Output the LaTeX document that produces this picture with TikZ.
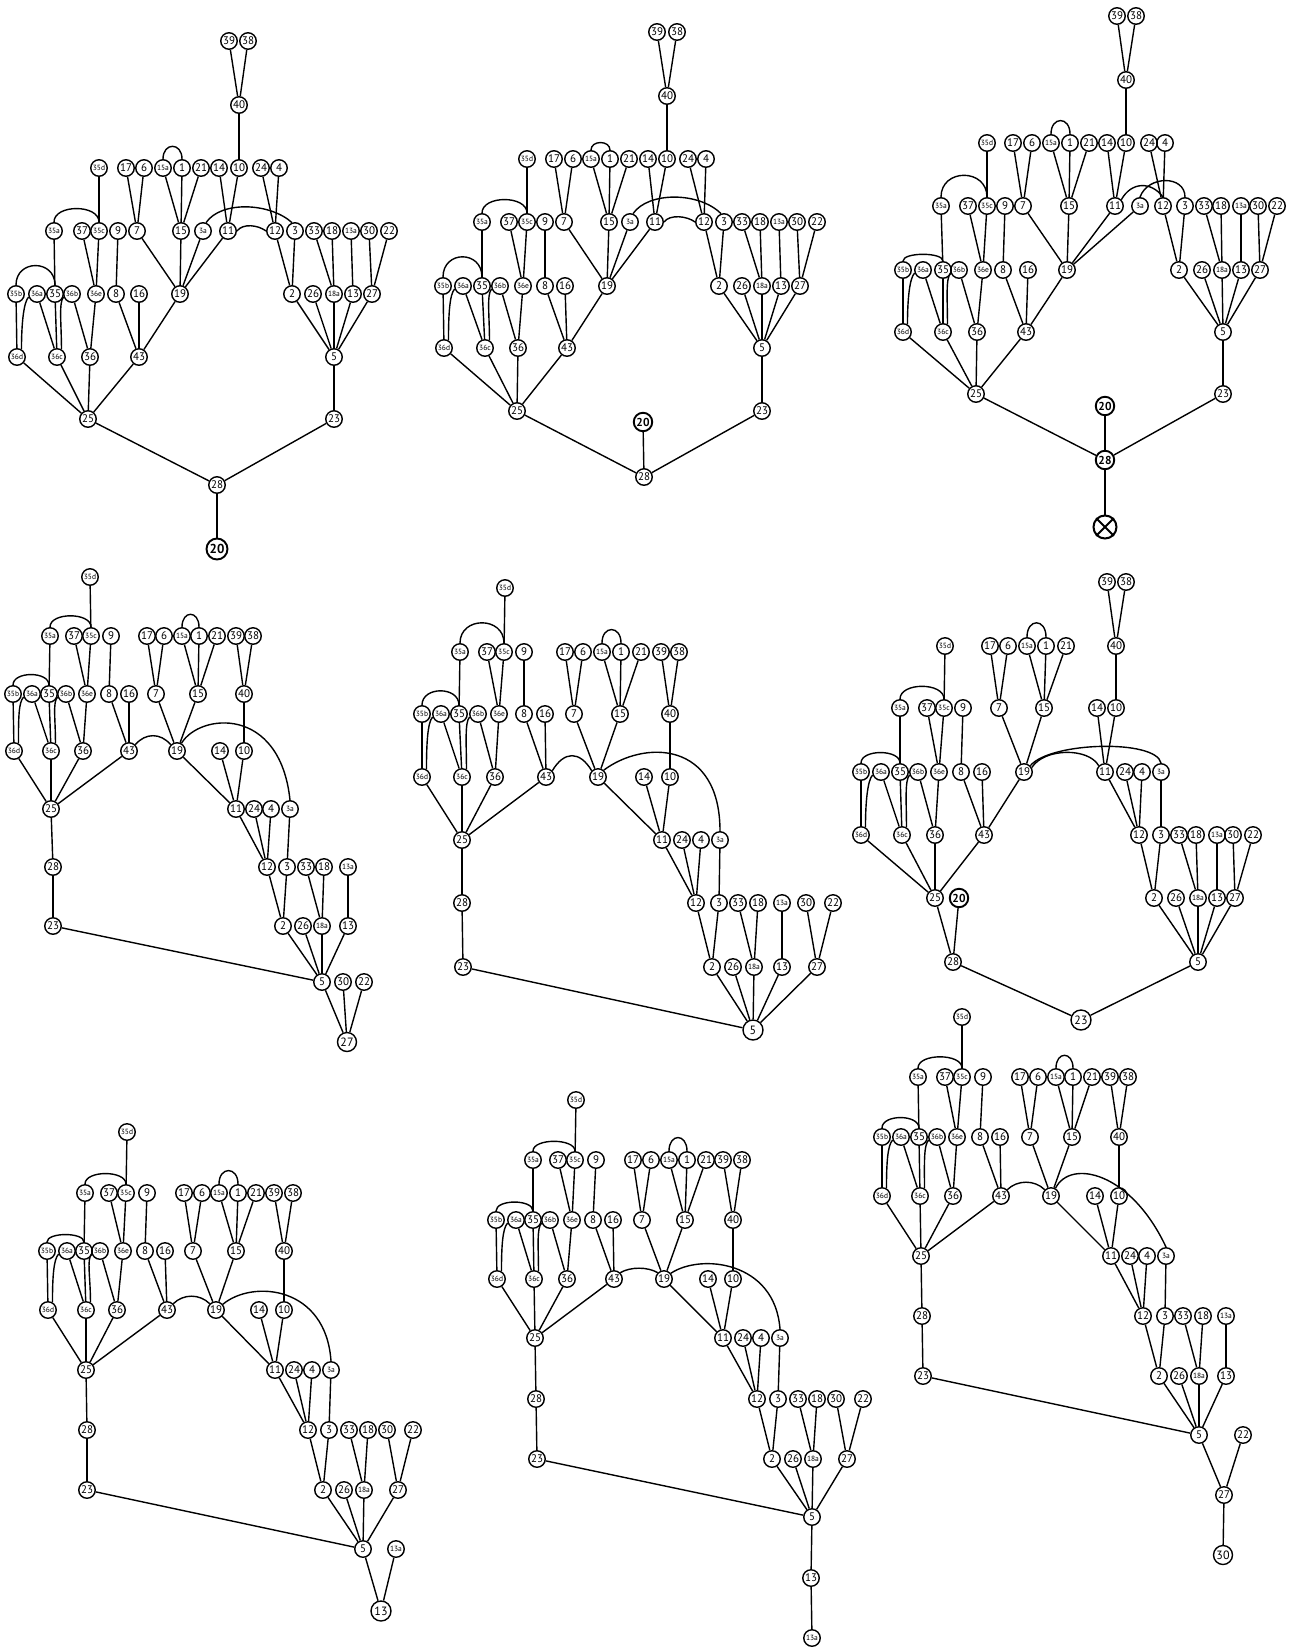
\documentclass[tikz,border=0pt]{standalone}
\usepackage{fontspec}
\setmainfont{PT Sans}
\usepackage{tikz}

% edges shared by all nine trees
\newcommand{\coreedges}{35d/35c, 37/36e, 35c/36e, 9/8, 35a/35, 35b/36d, 36a/36c, 35/36c,
  36b/36, 36e/36, 8/43, 16/43, 36d/25, 36c/25, 36/25, 43/25, 17/7, 6/7, 15a/15, 1/15,
  21/15, 7/19, 15/19, 39/40, 38/40, 40/10, 14/11, 10/11, 24/12, 4/12, 12/2, 3/2,
  33/18a, 18/18a, 2/5, 26/5, 18a/5}

\begin{document}
\begin{tikzpicture}[x=1pt,y=-1pt,
    vertex/.style={circle,draw,line width=1.4pt,minimum size=16.5pt,inner sep=0pt,font=\fontsize{11}{11}\selectfont},
    subvertex/.style={vertex,font=\fontsize{7.5}{7.5}\selectfont},
    bigvertex/.style={vertex,line width=1.9pt,minimum size=18.5pt,font=\fontsize{11.5}{11.5}\selectfont\bfseries},
    branch/.style={line width=1.4pt}]

\useasboundingbox (0,0) rectangle (1292,1650);

% Tree 1
\begin{scope}[name prefix=p1-]
\foreach \n/\x/\y in {39/229/41, 38/248/41, 40/239/105,
  17/126/168, 6/144/168, 1/182/168, 21/201/168, 14/219/168, 10/239/168, 24/261/168, 4/279/168,
  37/82/231, 9/118/231, 7/137/231, 15/181/231, 11/228/231, 12/275/231, 3/295/231, 33/314/231, 18/332/231, 30/369/231, 22/389/231,
  35/55/294, 8/116/294, 16/139/294, 19/180/294, 2/292/294, 26/313/294, 13/353/294, 27/372/294,
  36/90/357, 43/139/357, 5/334/357, 25/88/419, 23/334/419, 28/217/485}
  \node[vertex] (\n) at (\x,\y) {\n};
\foreach \n/\x/\y in {35d/99/168, 15a/163/168, 35a/54/231, 35c/99/231, 3a/203/231, 13a/351/231,
  35b/16/294, 36a/37/294, 36b/72/294, 36e/96/294, 18a/334/294, 36d/17/357, 36c/57/357}
  \node[subvertex] (\n) at (\x,\y) {\n};
\node[bigvertex,minimum size=21pt,font=\fontsize{13}{13}\selectfont\bfseries] (20) at (217,549) {20};
\foreach \a/\b in \coreedges \draw[branch] (\a) -- (\b);
\foreach \a/\b in {11/19, 3a/19, 19/43, 13a/13, 13/5, 30/27, 22/27, 27/5, 5/23, 23/28, 25/28, 28/20}
  \draw[branch] (\a) -- (\b);
\draw[branch] (15a.north) .. controls +(0,-17) and +(0,-17) .. (1.north);
\draw[branch] (35a.north) .. controls +(0,-18) and +(0,-18) .. (35c.north);
\draw[branch] (35b.north) .. controls +(0,-26) and +(0,-26) .. (35.north);
\draw[branch] (36a.200) .. controls +(-5,5) and +(0,-25) .. (36d.60);
\draw[branch] (36b.200) .. controls +(-5,5) and +(0,-25) .. (36c.60);
\draw[branch] (11.east) .. controls +(6,-8) and +(-8,-6) .. (12.west);
\draw[branch] (3a.70) .. controls +(15,-22) and +(-22,-20) .. (3.110);
\end{scope}

% Tree 2
\begin{scope}[name prefix=p2-]
\foreach \n/\x/\y in {39/657/32, 38/677/32, 40/667/96,
  17/554/159, 6/573/159, 1/610/159, 21/629/159, 14/648/159, 10/667/159, 24/688/159, 4/706/159,
  37/509/222, 9/545/222, 7/564/222, 15/609/222, 11/655/222, 12/704/222, 3/724/222, 33/742/222, 18/760/222, 30/797/222, 22/817/222,
  35/482/286, 8/545/286, 16/565/286, 19/607/286, 2/719/286, 26/742/286, 13/781/286, 27/800/286,
  36/518/348, 43/567/348, 5/762/348, 25/517/411, 23/762/411, 28/644/477}
  \node[vertex] (\n) at (\x,\y) {\n};
\foreach \n/\x/\y in {35d/527/159, 15a/591/159, 35a/482/222, 35c/527/222, 3a/630/222, 13a/779/222,
  35b/443/286, 36a/463/286, 36b/500/286, 36e/523/286, 18a/762/286, 36d/444/348, 36c/485/348}
  \node[subvertex] (\n) at (\x,\y) {\n};
\node[bigvertex] (20) at (643,422) {20};
\foreach \a/\b in \coreedges \draw[branch] (\a) -- (\b);
\foreach \a/\b in {11/19, 3a/19, 19/43, 13a/13, 13/5, 30/27, 22/27, 27/5, 5/23, 23/28, 25/28, 20/28}
  \draw[branch] (\a) -- (\b);
\draw[branch] (15a.north) .. controls +(0,-10) and +(0,-10) .. (1.north);
\draw[branch] (35a.north) .. controls +(0,-18) and +(0,-18) .. (35c.north);
\draw[branch] (35b.north) .. controls +(0,-27) and +(0,-27) .. (35.north);
\draw[branch] (36a.200) .. controls +(-5,5) and +(0,-25) .. (36d.60);
\draw[branch] (36b.200) .. controls +(-5,5) and +(0,-25) .. (36c.60);
\draw[branch] (11.east) .. controls +(6,-8) and +(-8,-6) .. (12.west);
\draw[branch] (3a.70) .. controls +(15,-22) and +(-22,-22) .. (3.110);
\end{scope}

% Tree 3
\begin{scope}[name prefix=p3-]
\foreach \n/\x/\y in {39/1117/16, 38/1136/16, 40/1126/80,
  17/1013/143, 6/1032/143, 1/1070/143, 21/1089/143, 14/1107/143, 10/1126/143, 24/1149/143, 4/1165/143,
  37/968/206, 9/1005/206, 7/1023/206, 15/1069/206, 11/1115/206, 12/1163/206, 3/1185/206, 33/1204/206, 18/1221/206, 30/1258/206, 22/1277/206,
  35/943/270, 8/1003/270, 16/1028/270, 19/1067/270, 2/1179/270, 26/1202/270, 13/1241/270, 27/1260/270,
  36/977/332, 43/1026/332, 5/1223/332, 25/976/394, 23/1223/394}
  \node[vertex] (\n) at (\x,\y) {\n};
\foreach \n/\x/\y in {35d/987/143, 15a/1051/143, 35a/941/206, 35c/987/206, 3a/1140/206, 13a/1241/206,
  35b/903/270, 36a/923/270, 36b/959/270, 36e/983/270, 18a/1222/270, 36d/903/332, 36c/943/332}
  \node[subvertex] (\n) at (\x,\y) {\n};
\node[bigvertex] (20) at (1105,406) {20};
\node[bigvertex] (28) at (1105,460) {28};
\node[circle,draw,line width=2pt,minimum size=23pt] (stop) at (1105,527) {};
\draw[line width=2pt] (stop.north west) -- (stop.south east) (stop.north east) -- (stop.south west);
\foreach \a/\b in \coreedges \draw[branch] (\a) -- (\b);
\foreach \a/\b in {11/19, 3a/19, 19/43, 13a/13, 13/5, 30/27, 22/27, 27/5, 5/23, 23/28, 25/28, 20/28, 28/stop}
  \draw[branch] (\a) -- (\b);
\draw[branch] (15a.north) .. controls +(0,-18) and +(0,-18) .. (1.north);
\draw[branch] (35a.north) .. controls +(0,-29) and +(0,-29) .. (35c.north);
\draw[branch] (35b.north) .. controls +(0,-9) and +(0,-9) .. (35.north);
\draw[branch] (36a.200) .. controls +(-5,5) and +(0,-25) .. (36d.60);
\draw[branch] (36b.200) .. controls +(-5,5) and +(0,-25) .. (36c.60);
\draw[branch] (11.45) .. controls +(10,-18) and +(-12,-16) .. (12.north);
\draw[branch] (3a.north) .. controls +(8,-22) and +(0,-22) .. (3.north);
\end{scope}

% Tree 4
\begin{scope}[name prefix=p4-]
\foreach \n/\x/\y in {37/74/636, 9/111/636, 17/147/636, 6/164/636, 1/199/636, 21/217/636, 39/236/636, 38/253/636,
  35/49/694, 8/109/694, 16/129/694, 7/156/694, 15/198/694, 40/244/694,
  36/83/751, 43/129/751, 19/177/751, 14/220/751, 10/244/751,
  25/51/809, 11/236/809, 24/254/809, 4/271/809,
  28/53/867, 12/267/867, 3/287/867, 33/306/867, 18/324/867,
  23/53/926, 2/283/926, 26/303/926, 13/348/926,
  5/322/982, 30/343/982, 22/364/982}
  \node[vertex] (\n) at (\x,\y) {\n};
\foreach \n/\x/\y in {35d/90/577, 35a/50/636, 35c/91/636, 15a/182/636,
  35b/13/694, 36a/32/694, 36b/66/694, 36e/87/694, 36d/14/751, 36c/51/751,
  3a/290/809, 13a/348/867, 18a/322/926}
  \node[subvertex] (\n) at (\x,\y) {\n};
\node[vertex,minimum size=19pt,font=\fontsize{12}{12}\selectfont] (27) at (347,1042) {27};
\foreach \a/\b in \coreedges \draw[branch] (\a) -- (\b);
\foreach \a/\b in {19/11, 11/12, 3a/3, 13a/13, 13/5, 25/28, 28/23, 23/5, 5/27, 30/27, 22/27}
  \draw[branch] (\a) -- (\b);
\draw[branch] (15a.north) .. controls +(0,-17) and +(0,-17) .. (1.north);
\draw[branch] (35a.north) .. controls +(0,-15) and +(0,-15) .. (35c.north);
\draw[branch] (35b.north) .. controls +(0,-14) and +(0,-14) .. (35.north);
\draw[branch] (36a.200) .. controls +(-5,5) and +(0,-25) .. (36d.60);
\draw[branch] (36b.200) .. controls +(-5,5) and +(0,-25) .. (36c.60);
\draw[branch] (43.45) .. controls +(10,-12) and +(-10,-12) .. (19.135);
\draw[branch] (19.60) .. controls +(18,-30) and +(-10,-95) .. (3a.north);
\end{scope}

% Tree 5
\begin{scope}[name prefix=p5-]
\foreach \n/\x/\y in {37/487/652, 9/524/652, 17/565/652, 6/583/652, 1/621/652, 21/641/652, 39/661/652, 38/679/652,
  35/459/714, 8/524/714, 16/545/714, 7/574/714, 15/620/714, 40/670/714,
  36/495/777, 43/546/777, 19/598/777, 14/644/777, 10/670/777,
  25/462/840, 11/662/840, 24/682/840, 4/701/840,
  28/462/903, 12/696/903, 3/719/903, 33/738/903, 18/758/903, 30/806/903, 22/833/903,
  23/463/967, 2/712/967, 26/733/967, 13/782/967, 27/817/967}
  \node[vertex] (\n) at (\x,\y) {\n};
\foreach \n/\x/\y in {35d/505/588, 35a/460/652, 35c/504/652, 15a/602/652,
  35b/422/714, 36a/441/714, 36b/478/714, 36e/499/714, 36d/422/777, 36c/462/777,
  3a/720/840, 13a/782/903, 18a/754/967}
  \node[subvertex] (\n) at (\x,\y) {\n};
\node[vertex,minimum size=20pt,font=\fontsize{12}{12}\selectfont] (5) at (753,1030) {5};
\foreach \a/\b in \coreedges \draw[branch] (\a) -- (\b);
\foreach \a/\b in {19/11, 11/12, 3a/3, 13a/13, 13/5, 30/27, 22/27, 27/5, 25/28, 28/23, 23/5}
  \draw[branch] (\a) -- (\b);
\draw[branch] (15a.north) .. controls +(0,-18) and +(0,-18) .. (1.north);
\draw[branch] (35a.north) .. controls +(0,-27) and +(0,-27) .. (35c.north);
\draw[branch] (35b.north) .. controls +(0,-19) and +(0,-19) .. (35.north);
\draw[branch] (36a.200) .. controls +(-5,5) and +(0,-25) .. (36d.60);
\draw[branch] (36b.200) .. controls +(-5,5) and +(0,-25) .. (36c.60);
\draw[branch] (43.45) .. controls +(12,-20) and +(-12,-20) .. (19.135);
\draw[branch] (19.50) .. controls +(40,-30) and +(0,-91) .. (3a.north);
\end{scope}

% Tree 6
\begin{scope}[name prefix=p6-]
\foreach \n/\x/\y in {39/1107/582, 38/1126/582,
  17/990/646, 6/1008/646, 1/1046/646, 21/1066/646, 40/1116/646,
  37/927/708, 9/963/708, 7/999/708, 15/1044/708, 14/1097/708, 10/1116/708,
  35/900/772, 8/961/772, 16/982/772, 19/1024/772, 11/1105/772, 24/1125/772, 4/1142/772,
  36/935/835, 43/984/835, 12/1139/835, 3/1161/835, 33/1179/835, 18/1196/835, 30/1233/835, 22/1253/835,
  25/935/898, 2/1154/898, 26/1176/898, 13/1217/898, 27/1235/898,
  28/953/962, 5/1198/962}
  \node[vertex] (\n) at (\x,\y) {\n};
\foreach \n/\x/\y in {35d/945/646, 15a/1027/646, 35a/900/708, 35c/944/708,
  35b/861/772, 36a/881/772, 36b/918/772, 36e/939/772, 3a/1161/772,
  36d/861/835, 36c/902/835, 13a/1217/835, 18a/1198/898}
  \node[subvertex] (\n) at (\x,\y) {\n};
\node[bigvertex] (20) at (959,898) {20};
\node[vertex,minimum size=20pt,font=\fontsize{12}{12}\selectfont] (23) at (1081,1020) {23};
\foreach \a/\b in \coreedges \draw[branch] (\a) -- (\b);
\foreach \a/\b in {19/43, 11/12, 3a/3, 13a/13, 13/5, 30/27, 22/27, 27/5, 5/23, 28/23, 25/28, 20/28}
  \draw[branch] (\a) -- (\b);
\draw[branch] (15a.north) .. controls +(0,-19) and +(0,-19) .. (1.north);
\draw[branch] (35a.north) .. controls +(0,-17) and +(0,-17) .. (35c.north);
\draw[branch] (35b.north) .. controls +(0,-14) and +(0,-14) .. (35.north);
\draw[branch] (36a.200) .. controls +(-5,5) and +(0,-25) .. (36d.60);
\draw[branch] (36b.200) .. controls +(-5,5) and +(0,-25) .. (36c.60);
\draw[branch] (19.30) .. controls +(13,-20) and +(-10,-18) .. (11.135);
\draw[branch] (19.45) .. controls +(20,-24) and +(-5,-24) .. (3a.north);
\end{scope}

% Tree 7
\begin{scope}[name prefix=p7-]
\foreach \n/\x/\y in {37/109/1193, 9/147/1193, 17/184/1193, 6/202/1193, 1/238/1193, 21/256/1193, 39/274/1193, 38/293/1193,
  35/84/1251, 8/145/1251, 16/165/1251, 7/193/1251, 15/236/1251, 40/284/1251,
  36/117/1310, 43/167/1310, 19/216/1310, 14/259/1310, 10/284/1310,
  25/86/1370, 11/275/1370, 24/294/1370, 4/312/1370,
  28/87/1430, 12/308/1430, 3/329/1430, 33/349/1430, 18/368/1430, 30/387/1430, 22/413/1430,
  23/87/1490, 2/323/1490, 26/344/1490, 27/398/1490, 5/363/1549}
  \node[vertex] (\n) at (\x,\y) {\n};
\foreach \n/\x/\y in {35d/127/1132, 35a/85/1193, 35c/126/1193, 15a/219/1193,
  35b/47/1251, 36a/67/1251, 36b/100/1251, 36e/123/1251, 36d/48/1310, 36c/86/1310,
  3a/331/1370, 18a/364/1490, 13a/396/1549}
  \node[subvertex] (\n) at (\x,\y) {\n};
\node[vertex,minimum size=20pt,font=\fontsize{12}{12}\selectfont] (13) at (381,1611) {13};
\foreach \a/\b in \coreedges \draw[branch] (\a) -- (\b);
\foreach \a/\b in {19/11, 11/12, 3a/3, 30/27, 22/27, 27/5, 25/28, 28/23, 23/5, 5/13, 13a/13}
  \draw[branch] (\a) -- (\b);
\draw[branch] (15a.north) .. controls +(0,-18) and +(0,-18) .. (1.north);
\draw[branch] (35a.north) .. controls +(0,-14) and +(0,-14) .. (35c.north);
\draw[branch] (35b.north) .. controls +(0,-10) and +(0,-10) .. (35.north);
\draw[branch] (36a.200) .. controls +(-5,5) and +(0,-25) .. (36d.60);
\draw[branch] (36b.200) .. controls +(-5,5) and +(0,-25) .. (36c.60);
\draw[branch] (43.45) .. controls +(10,-10) and +(-10,-10) .. (19.135);
\draw[branch] (19.40) .. controls +(30,-25) and +(-5,-75) .. (3a.north);
\end{scope}

% Tree 8
\begin{scope}[name prefix=p8-]
\foreach \n/\x/\y in {37/558/1160, 9/596/1160, 17/633/1160, 6/651/1160, 1/687/1160, 21/706/1160, 39/723/1160, 38/742/1160,
  35/533/1220, 8/593/1220, 16/613/1220, 7/642/1220, 15/685/1220, 40/733/1220,
  36/567/1279, 43/614/1279, 19/664/1279, 14/708/1279, 10/733/1279,
  25/535/1338, 11/723/1338, 24/743/1338, 4/761/1338,
  28/536/1399, 12/757/1399, 3/778/1399, 33/798/1399, 18/817/1399, 30/836/1399, 22/863/1399,
  23/537/1459, 2/772/1459, 26/793/1459, 27/847/1459, 5/812/1517, 13/811/1578}
  \node[vertex] (\n) at (\x,\y) {\n};
\foreach \n/\x/\y in {35d/576/1100, 35a/533/1160, 35c/575/1160, 15a/669/1160,
  35b/496/1220, 36a/516/1220, 36b/550/1220, 36e/572/1220, 36d/497/1279, 36c/534/1279,
  3a/780/1338, 18a/813/1459, 13a/812/1638}
  \node[subvertex] (\n) at (\x,\y) {\n};
\foreach \a/\b in \coreedges \draw[branch] (\a) -- (\b);
\foreach \a/\b in {19/11, 11/12, 3a/3, 30/27, 22/27, 27/5, 25/28, 28/23, 23/5, 5/13, 13/13a}
  \draw[branch] (\a) -- (\b);
\draw[branch] (15a.north) .. controls +(0,-18) and +(0,-18) .. (1.north);
\draw[branch] (35a.north) .. controls +(0,-13) and +(0,-13) .. (35c.north);
\draw[branch] (35b.north) .. controls +(0,-12) and +(0,-12) .. (35.north);
\draw[branch] (36a.200) .. controls +(-5,5) and +(0,-25) .. (36d.60);
\draw[branch] (36b.200) .. controls +(-5,5) and +(0,-25) .. (36c.60);
\draw[branch] (43.45) .. controls +(10,-6) and +(-10,-6) .. (19.135);
\draw[branch] (19.40) .. controls +(30,-20) and +(-5,-68) .. (3a.north);
\end{scope}

% Tree 9
\begin{scope}[name prefix=p9-]
\foreach \n/\x/\y in {37/945/1077, 9/983/1077, 17/1020/1077, 6/1038/1077, 1/1073/1077, 21/1092/1077, 39/1110/1077, 38/1128/1077,
  35/919/1137, 8/980/1137, 16/1000/1137, 7/1030/1137, 15/1072/1137, 40/1119/1137,
  36/953/1196, 43/1001/1196, 19/1051/1196, 14/1095/1196, 10/1119/1196,
  25/921/1256, 11/1111/1256, 24/1130/1256, 4/1147/1256,
  28/922/1316, 12/1143/1316, 3/1165/1316, 33/1183/1316, 18/1203/1316,
  23/923/1376, 2/1159/1376, 26/1179/1376, 13/1226/1376,
  5/1199/1435, 22/1243/1435, 27/1224/1495}
  \node[vertex] (\n) at (\x,\y) {\n};
\foreach \n/\x/\y in {35d/962/1017, 35a/918/1077, 35c/962/1077, 15a/1056/1077,
  35b/882/1137, 36a/901/1137, 36b/937/1137, 36e/957/1137, 36d/882/1196, 36c/920/1196,
  3a/1166/1256, 13a/1226/1316, 18a/1199/1376}
  \node[subvertex] (\n) at (\x,\y) {\n};
\node[vertex,minimum size=19pt,font=\fontsize{12}{12}\selectfont] (30) at (1223,1555) {30};
\foreach \a/\b in \coreedges \draw[branch] (\a) -- (\b);
\foreach \a/\b in {19/11, 11/12, 3a/3, 13a/13, 13/5, 25/28, 28/23, 23/5, 5/27, 22/27, 27/30}
  \draw[branch] (\a) -- (\b);
\draw[branch] (15a.north) .. controls +(0,-17) and +(0,-17) .. (1.north);
\draw[branch] (35a.north) .. controls +(0,-15) and +(0,-15) .. (35c.north);
\draw[branch] (35b.north) .. controls +(0,-14) and +(0,-14) .. (35.north);
\draw[branch] (36a.200) .. controls +(-5,5) and +(0,-25) .. (36d.60);
\draw[branch] (36b.200) .. controls +(-5,5) and +(0,-25) .. (36c.60);
\draw[branch] (43.45) .. controls +(10,-10) and +(-10,-10) .. (19.135);
\draw[branch] (19.60) .. controls +(15,-30) and +(-35,-75) .. (3a.north);
\end{scope}

\end{tikzpicture}
\end{document}
